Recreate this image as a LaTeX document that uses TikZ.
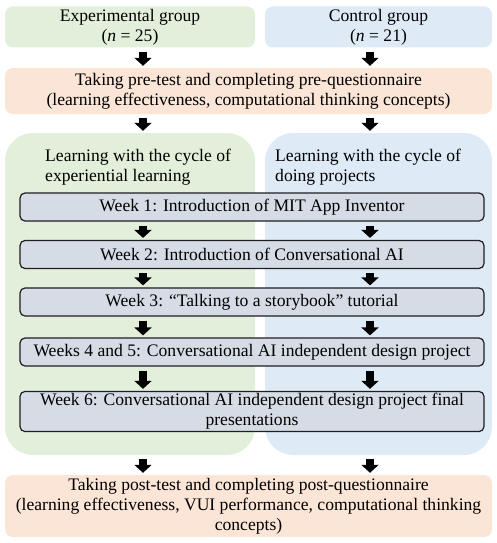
\documentclass[tikz,border=0pt]{standalone}
\usepackage{fontspec}
\setmainfont{Liberation Serif}
\usetikzlibrary{arrows.meta}
\begin{document}
\begin{tikzpicture}[x=1pt, y=-1pt]
  % Colors
  \definecolor{expcol}{RGB}{226,239,218}
  \definecolor{ctrlcol}{RGB}{222,235,247}
  \definecolor{testcol}{RGB}{251,229,214}
  \definecolor{weekcol}{RGB}{214,220,229}
  \definecolor{edgecol}{RGB}{30,30,35}
  %
  \def\fs{\fontsize{17.6}{20}\selectfont}
  %
  \tikzset{
    gbox/.style={rounded corners=8pt, inner sep=2pt, align=center, font=\fs},
    panel/.style={rounded corners=28pt, inner sep=0pt},
    wbox/.style={draw=edgecol, line width=1.2pt, fill=weekcol, rounded corners=5pt,
                 minimum width=464pt, inner sep=2pt, align=center, font=\fs},
    ptitle/.style={anchor=north west, align=left, inner sep=0pt, font=\fs},
    fat/.style={line width=7.5pt, -{Triangle[width=17pt,length=8pt]},
                shorten <=4pt, shorten >=2pt},
  }
  \useasboundingbox (0,0) rectangle (497,543);
  %
  % Arrow columns
  \coordinate (la) at (143,0);
  \coordinate (ra) at (370,0);
  %
  %%% TOP %%%
  \node[gbox, fill=expcol, minimum width=250pt, minimum height=41pt] (exp) at (130,27)
    {Experimental group\\(\textit{n} = 25)};
  \node[gbox, fill=ctrlcol, minimum width=227pt, minimum height=41pt] (ctrl) at (378.5,27)
    {Control group\\(\textit{n} = 21)};
  \node[gbox, fill=testcol, minimum width=487pt, minimum height=46pt] (pre) at (248.5,91)
    {Taking pre-test and completing pre-questionnaire\\(learning effectiveness, computational thinking concepts)};
  %
  %%% PANELS %%%
  \node[panel, fill=expcol, minimum width=250pt, minimum height=322pt] (gpanel) at (130,294) {};
  \node[panel, fill=ctrlcol, minimum width=227pt, minimum height=322pt] (bpanel) at (378.5,294) {};
  \node[ptitle] (gtitle) at (45,149) {Learning with the cycle of\\experiential learning};
  \node[ptitle] (btitle) at (275,149) {Learning with the cycle of\\doing projects};
  %
  % --- Weeks ---
  \foreach \n/\yc/\txt in {
    1/207/{Week 1: Introduction of MIT App Inventor},
    2/254.5/{Week 2: Introduction of Conversational AI},
    3/302/{Week 3: ``Talking to a storybook'' tutorial},
    4/352/{Weeks 4 and 5: Conversational AI independent design project},
    5/411.5/{Week 6: Conversational AI independent design project final\\presentations}%
  } {
    \node[wbox, minimum height=28pt] (w\n) at (252,\yc) {\txt};
  }
  %
  %%% BOTTOM %%%
  \node[gbox, fill=testcol, minimum width=487pt, minimum height=62pt] (post) at (248.5,506)
    {Taking post-test and completing post-questionnaire\\(learning effectiveness, VUI performance, computational thinking\\concepts)};
  %
  % --- Arrows ---
  \foreach \a/\b in {exp/pre, pre/gpanel, w1/w2, w2/w3, w3/w4, w4/w5, gpanel/post} {
    \draw[fat] (\a.south -| la) -- (\b.north -| la);
  }
  \foreach \a/\b in {ctrl/pre, pre/bpanel, w1/w2, w2/w3, w3/w4, w4/w5, bpanel/post} {
    \draw[fat] (\a.south -| ra) -- (\b.north -| ra);
  }
\end{tikzpicture}
\end{document}
